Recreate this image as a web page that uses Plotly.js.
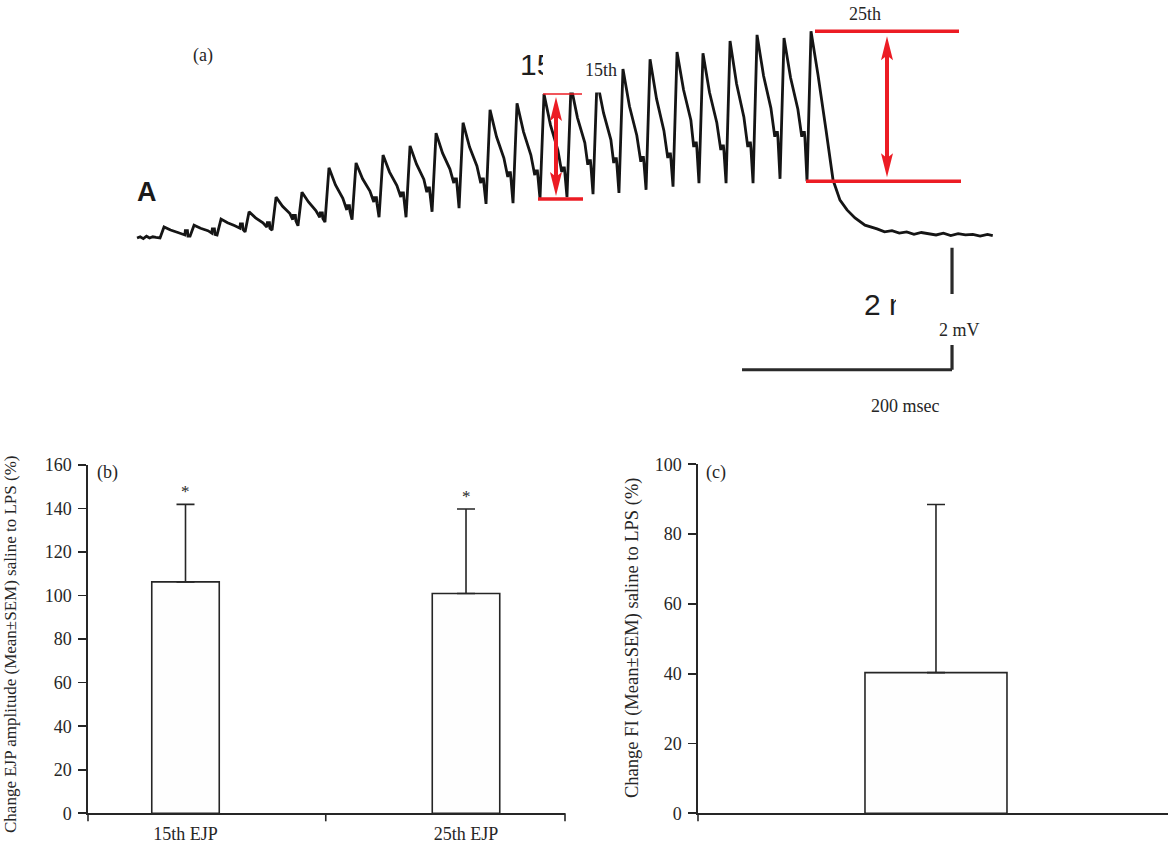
<!DOCTYPE html>
<html>
<head>
<meta charset="utf-8">
<script src="https://cdn.plot.ly/plotly-3.0.1.min.js"></script>
<style>
  html, body { margin: 0; padding: 0; background: #fff; }
  #fig { width: 1169px; height: 845px; }
</style>
</head>
<body>
<div id="fig"></div>
<script>
// ---------- (a) EJP train recording (time in ms, membrane potential in mV) ----------
const leadTime = [0, 3, 6, 9, 12, 15, 18];
const leadMv   = [0.00, 0.02, -0.01, 0.03, 0.00, 0.02, 0.01];

const pulseOnset  = [21.9, 50.5, 76.2, 102.9, 128.6, 153.3, 179.0, 204.8, 230.5, 256.2,
                     281.0, 306.7, 332.4, 358.1, 383.8, 409.5, 434.3, 459.0, 484.8, 510.5,
                     535.2, 561.0, 586.7, 612.4, 638.1];
const pulseTrough = [0.00, 0.03, 0.05, 0.10, 0.13, 0.20, 0.26, 0.30, 0.34, 0.34,
                     0.43, 0.49, 0.56, 0.57, 0.64, 0.67, 0.72, 0.74, 0.79, 0.84,
                     0.90, 0.90, 0.90, 0.97, 0.93];
const pulsePeak   = [0.18, 0.21, 0.31, 0.43, 0.67, 0.75, 1.15, 1.23, 1.36, 1.51,
                     1.72, 1.89, 2.10, 2.21, 2.36, 2.49, 2.59, 2.77, 2.93, 3.05,
                     3.03, 3.23, 3.33, 3.28, 3.39];
const decayEarly  = [0.13, 0.16, 0.25, 0.33, 0.52, 0.59, 0.87, 0.97, 1.08, 1.21,
                     1.39, 1.49, 1.66, 1.74, 1.85, 1.97, 2.05, 2.16, 2.28, 2.43,
                     2.39, 2.53, 2.66, 2.63];
const decayLate   = [0.09, 0.12, 0.20, 0.25, 0.40, 0.45, 0.65, 0.77, 0.86, 0.96,
                     1.13, 1.18, 1.31, 1.36, 1.44, 1.56, 1.61, 1.68, 1.76, 1.93,
                     1.89, 1.98, 2.13, 2.11];
const decayEnd    = [0.05, 0.08, 0.16, 0.18, 0.30, 0.34, 0.46, 0.59, 0.67, 0.75,
                     0.90, 0.90, 1.00, 1.03, 1.08, 1.20, 1.23, 1.25, 1.31, 1.49,
                     1.44, 1.49, 1.66, 1.66];

const tailTime = [648.6, 656.2, 662.9, 669.5, 676.2, 683.8, 693.3, 704.8, 712, 719, 726, 733,
                  740, 747, 754, 761, 768, 775, 782, 789, 796, 803, 810, 815];
const tailMv   = [2.67, 1.77, 0.95, 0.62, 0.46, 0.33, 0.21, 0.15, 0.10, 0.12, 0.08, 0.10,
                  0.06, 0.09, 0.07, 0.05, 0.08, 0.04, 0.07, 0.05, 0.06, 0.03, 0.06, 0.04];

const scaleBarMs = 200;
const scaleBarMv = 2;
const scaleBarCorner = [776.2, -2.16];   // [ms, mV] of the bar's right/bottom corner

// ---------- (b) EJP amplitude change ----------
const ejpCategories = ['15th EJP', '25th EJP'];
const ejpMean = [106.3, 101.0];
const ejpSem  = [35.6, 38.8];
const ejpTicks = [0, 20, 40, 60, 80, 100, 120, 140, 160];

// ---------- (c) FI change ----------
const fiCategories = ['FI'];
const fiMean = [40.3];
const fiSem  = [48.2];
const fiTicks = [0, 20, 40, 60, 80, 100];

// ---------- layout geometry ----------
const W = 1169, H = 845;
const px = v => v / W;
const py = v => 1 - v / H;

const SERIF = 'Liberation Serif, Times New Roman, serif';
const SANS = 'Liberation Sans, Arial, sans-serif';
const INK = '#262626';
const RED = '#ec1c24';

// panel (a) frame
const A_XPX = [130, 1000], A_YPX = [20, 400];
const A_T = [-6.7, 821.9], A_V = [-2.656, 3.574];
const msPerPx = (A_T[1] - A_T[0]) / (A_XPX[1] - A_XPX[0]);
const mvPerPx = (A_V[1] - A_V[0]) / (A_YPX[1] - A_YPX[0]);
const tAt = p => A_T[0] + (p - A_XPX[0]) * msPerPx;
const vAt = p => A_V[1] - (p - A_YPX[0]) * mvPerPx;

// assemble the recording polyline
const recT = [], recV = [];
function add(t, v) { recT.push(t); recV.push(v); }
leadTime.forEach((t, i) => add(t, leadMv[i]));
pulseOnset.forEach((on, i) => {
  if (i > 0) {
    const pre = decayEnd[i - 1];
    add(on - 5, pre);
    add(on - 4.5, pre + 0.07);   // stimulus artefact
    add(on - 2.5, pre + 0.07);
    add(on - 2, pre - 0.02);
  }
  add(on, pulseTrough[i]);
  add(on + 3.8, pulsePeak[i]);
  if (i < pulseOnset.length - 1) {
    add(on + 10, decayEarly[i]);
    add(on + 17, decayLate[i]);
  }
});
tailTime.forEach((t, i) => add(t, tailMv[i]));

const recording = {
  type: 'scatter', mode: 'lines', x: recT, y: recV,
  xaxis: 'x3', yaxis: 'y3',
  line: { color: '#151515', width: 2.8 },
  hoverinfo: 'skip', showlegend: false
};

// original sans labels, partly masked further down
const sansLabels = {
  type: 'scatter', mode: 'text', xaxis: 'x3', yaxis: 'y3',
  x: [tAt(520), tAt(864)], y: [vAt(67), vAt(307)],
  text: ['15th', '2 mV'], textposition: 'middle right',
  textfont: { family: SANS, size: 30, color: '#1e1e1e' },
  hoverinfo: 'skip', showlegend: false
};

const barLine = { color: INK, width: 1.6 };
const ejpBars = {
  type: 'bar', x: ejpCategories, y: ejpMean, xaxis: 'x', yaxis: 'y',
  width: 0.2406,
  marker: { color: '#fefefe', line: barLine },
  error_y: { type: 'data', array: ejpSem, arrayminus: ejpSem.map(() => 0), symmetric: false,
             color: INK, thickness: 1.6, width: 9 },
  hoverinfo: 'skip', showlegend: false
};
const fiBars = {
  type: 'bar', x: fiCategories, y: fiMean, xaxis: 'x2', yaxis: 'y2',
  width: 1,
  marker: { color: '#fefefe', line: barLine },
  error_y: { type: 'data', array: fiSem, arrayminus: fiSem.map(() => 0), symmetric: false,
             color: INK, thickness: 1.6, width: 9 },
  hoverinfo: 'skip', showlegend: false
};

// axes of (b) and (c)
const yDomB = [py(813.3), py(465)];
const yDomC = [py(813.3), py(464.3)];
const tickFont = { family: SERIF, size: 18, color: INK };
function valueAxis(dom, range, ticks, anchor) {
  return {
    domain: dom, range: range, tickvals: ticks, anchor: anchor,
    showline: true, linecolor: INK, linewidth: 1.6,
    ticks: 'outside', ticklen: 8, tickwidth: 1.6, tickcolor: INK,
    tickfont: tickFont, ticklabelstandoff: 3,
    showgrid: false, zeroline: false, fixedrange: true
  };
}

// shapes
const shapes = [];
function seg(x0, y0, x1, y1, color, width, xref, yref) {
  shapes.push({ type: 'line', xref, yref, x0, y0, x1, y1,
                line: { color, width }, layer: 'above' });
}
// x-axis tick marks of (b) and (c)
const tickDrop = 8 / H;
[[0, 'x domain'], [0.5, 'x'], [1, 'x domain']].forEach(([x, ref]) =>
  seg(x, yDomB[0], x, yDomB[0] - tickDrop, INK, 1.6, ref, 'paper'));
seg(0, yDomC[0], 0, yDomC[0] - tickDrop, INK, 1.6, 'x2 domain', 'paper');

// scale bar
seg(scaleBarCorner[0] - scaleBarMs, scaleBarCorner[1], scaleBarCorner[0], scaleBarCorner[1], '#2a2a2a', 3.2, 'x3', 'y3');
seg(scaleBarCorner[0], scaleBarCorner[1], scaleBarCorner[0], scaleBarCorner[1] + scaleBarMv, '#2a2a2a', 3.2, 'x3', 'y3');

// amplitude markers of the 15th and 25th EJP
function doubleArrow(t, vLow, vHigh) {
  const hw = 6 * msPerPx, hl = 24 * mvPerPx;
  seg(t, vLow + hl * 0.7, t, vHigh - hl * 0.7, RED, 4, 'x3', 'y3');
  shapes.push({ type: 'path', xref: 'x3', yref: 'y3', layer: 'above',
    path: `M ${t} ${vHigh} L ${t - hw} ${vHigh - hl} L ${t} ${vHigh - hl * 0.8} L ${t + hw} ${vHigh - hl} Z`,
    fillcolor: RED, line: { width: 0 } });
  shapes.push({ type: 'path', xref: 'x3', yref: 'y3', layer: 'above',
    path: `M ${t} ${vLow} L ${t - hw} ${vLow + hl} L ${t} ${vLow + hl * 0.8} L ${t + hw} ${vLow + hl} Z`,
    fillcolor: RED, line: { width: 0 } });
}
const i15 = 14, i25 = 24;
seg(tAt(538), pulseTrough[i15], tAt(583), pulseTrough[i15], RED, 3.6, 'x3', 'y3');
seg(tAt(543), pulsePeak[i15], tAt(582), pulsePeak[i15], RED, 1.4, 'x3', 'y3');
doubleArrow(tAt(556), pulseTrough[i15] + 3 * mvPerPx, pulsePeak[i15] - 3 * mvPerPx);
seg(tAt(815), pulsePeak[i25], tAt(959), pulsePeak[i25], RED, 3.6, 'x3', 'y3');
seg(tAt(806), pulseTrough[i25], tAt(961), pulseTrough[i25], RED, 3.6, 'x3', 'y3');
doubleArrow(tAt(887), pulseTrough[i25] + 4 * mvPerPx, pulsePeak[i25] - 5 * mvPerPx);

// white masks over the old labels
function mask(x0, y0, x1, y1) {
  shapes.push({ type: 'rect', xref: 'paper', yref: 'paper', layer: 'above',
    x0: px(x0), x1: px(x1), y0: py(y1), y1: py(y0),
    fillcolor: '#ffffff', line: { width: 0 } });
}
mask(543, 40, 612, 92.5);
mask(896, 294, 992, 345);

// text
function label(text, x, y, size, extra) {
  return Object.assign({
    text, x: px(x), y: py(y), xref: 'paper', yref: 'paper',
    xanchor: 'center', yanchor: 'middle', showarrow: false,
    font: { family: SERIF, size, color: INK }
  }, extra || {});
}
const annotations = [
  label('(a)', 203, 55, 18),
  label('A', 147, 192, 27, { font: { family: SANS, size: 27, color: '#1a1a1a', weight: 'bold' } }),
  label('15th', 601, 70, 18),
  label('25th', 865, 14, 18),
  label('2 mV', 959, 330, 18),
  label('200 msec', 905, 406, 18),
  label('(b)', 107, 473, 18),
  label('(c)', 716, 473, 18),
  label('Change EJP amplitude (Mean\u00B1SEM) saline to LPS (%)', 10, 645, 17, { textangle: -90 }),
  label('Change FI (Mean\u00B1SEM) saline to LPS (%)', 632, 638, 18.5, { textangle: -90 })
];
ejpCategories.forEach((c, i) => annotations.push({
  text: '*', x: i, y: ejpMean[i] + ejpSem[i], xref: 'x', yref: 'y',
  xanchor: 'center', yanchor: 'bottom', yshift: 1, showarrow: false,
  font: { family: SERIF, size: 17, color: INK }
}));

const layout = {
  width: W, height: H,
  margin: { l: 0, r: 0, t: 0, b: 0 },
  paper_bgcolor: '#ffffff', plot_bgcolor: 'rgba(0,0,0,0)',
  showlegend: false,
  xaxis: {
    domain: [px(88), px(565)], type: 'category', range: [-0.3476, 1.3529], anchor: 'y',
    showline: true, linecolor: INK, linewidth: 1.6, ticks: '',
    tickfont: tickFont, ticklabelstandoff: 3, showgrid: false, zeroline: false, fixedrange: true
  },
  yaxis: valueAxis(yDomB, [0, 160], ejpTicks, 'x'),
  xaxis2: {
    domain: [px(698), px(1168)], type: 'category', range: [-1.676, 1.634], anchor: 'y2',
    showline: true, linecolor: INK, linewidth: 1.6, ticks: '', showticklabels: false,
    showgrid: false, zeroline: false, fixedrange: true
  },
  yaxis2: valueAxis(yDomC, [0, 100], fiTicks, 'x2'),
  xaxis3: { domain: [px(A_XPX[0]), px(A_XPX[1])], range: A_T, visible: false, anchor: 'y3', fixedrange: true },
  yaxis3: { domain: [py(A_YPX[1]), py(A_YPX[0])], range: A_V, visible: false, anchor: 'x3', fixedrange: true },
  shapes, annotations
};

Plotly.newPlot('fig', [recording, sansLabels, ejpBars, fiBars], layout,
               { staticPlot: true, displayModeBar: false });
</script>
</body>
</html>
